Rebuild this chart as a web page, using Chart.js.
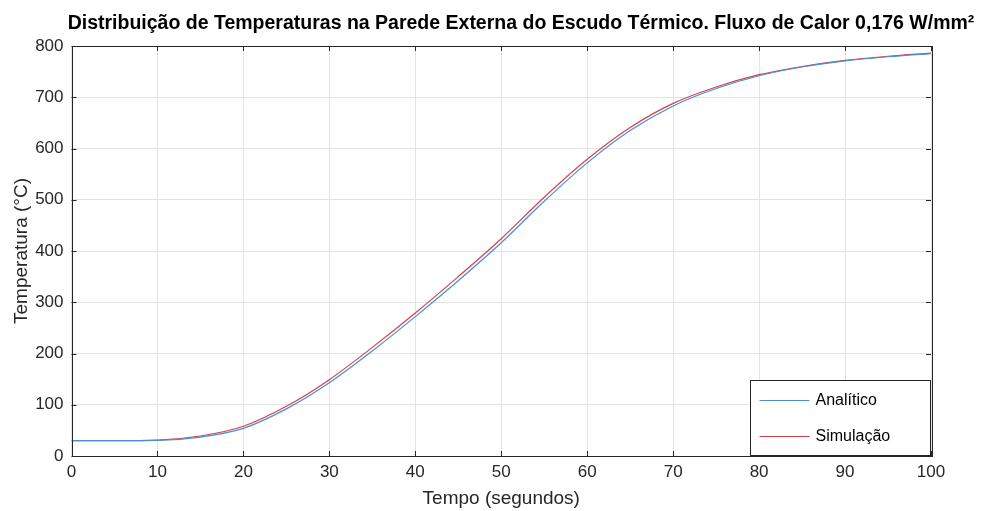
<!DOCTYPE html>
<html>
<head>
<meta charset="utf-8">
<script src="https://cdn.jsdelivr.net/npm/chart.js@4"></script>
<style>
  html, body { margin: 0; padding: 0; background: #fff; }
  #wrap { width: 1000px; height: 511px; }
</style>
</head>
<body>
<div id="wrap"><canvas id="chart" width="1000" height="511"></canvas></div>
<script>
// tempo (s) e temperaturas
const tempo = [0, 5, 10, 15, 20, 25, 30, 35, 40, 45, 50, 55, 60, 65, 70, 75, 80, 85, 90, 95, 100];
const analitico = [30, 30, 30.5, 37, 54, 92, 143, 205, 272, 342, 416, 497, 572, 635, 683, 717, 742, 759, 771, 779, 785];
const simulacao = [30, 30, 31, 39, 58, 97, 149, 212, 279, 350, 424, 505, 579, 641, 688, 720, 744, 760, 772, 780, 786];

const titulo = 'Distribuição de Temperaturas na Parede Externa do Escudo Térmico. Fluxo de Calor 0,176 W/mm²';
const nomes = ['Analítico', 'Simulação'];
const cores = ['#4a90cc', '#d6404e'];

const fonte = '"Liberation Sans", Arial, sans-serif';

const toPts = ys => tempo.map((t, i) => ({ x: t, y: ys[i] }));

const eixosPlugin = {
  id: 'eixos',
  afterDraw(chart) {
    const { ctx, chartArea: a } = chart;
    const xs = chart.scales.x, ys = chart.scales.y;
    ctx.save();
    // ticks para dentro
    ctx.strokeStyle = '#262626';
    ctx.lineWidth = 1;
    ctx.beginPath();
    for (let v = 0; v <= 100; v += 10) {
      const px = Math.round(xs.getPixelForValue(v)) + 0.5;
      ctx.moveTo(px, a.bottom); ctx.lineTo(px, a.bottom - 5);
      ctx.moveTo(px, a.top); ctx.lineTo(px, a.top + 5);
    }
    for (let v = 0; v <= 800; v += 100) {
      const py = Math.round(ys.getPixelForValue(v)) + 0.5;
      ctx.moveTo(a.left, py); ctx.lineTo(a.left + 5, py);
      ctx.moveTo(a.right, py); ctx.lineTo(a.right - 5, py);
    }
    ctx.stroke();
    ctx.strokeRect(Math.round(a.left) + 0.5, Math.round(a.top) + 0.5,
      Math.round(a.right - a.left), Math.round(a.bottom - a.top));

    // legenda
    const lx = 750.5, ly = 380.5, lw = 180, lh = 75;
    ctx.fillStyle = '#fff';
    ctx.fillRect(lx, ly, lw, lh);
    ctx.strokeStyle = '#262626';
    ctx.strokeRect(lx, ly, lw, lh);
    ctx.font = '16px ' + fonte;
    ctx.textBaseline = 'middle';
    chart.data.datasets.forEach((ds, i) => {
      const yy = ly + 20 + i * 36;
      ctx.strokeStyle = ds.borderColor;
      ctx.beginPath();
      ctx.moveTo(lx + 9, yy); ctx.lineTo(lx + 59, yy);
      ctx.stroke();
      ctx.fillStyle = '#000';
      ctx.textAlign = 'left';
      ctx.fillText(ds.label, lx + 65, yy);
    });

    // titulo
    ctx.font = 'bold 19.5px ' + fonte;
    ctx.fillStyle = '#000';
    ctx.textAlign = 'center';
    ctx.textBaseline = 'middle';
    ctx.fillText(titulo, 521, 24);
    ctx.restore();
  }
};

new Chart(document.getElementById('chart'), {
  type: 'line',
  data: {
    datasets: [
      { label: nomes[0], data: toPts(analitico), borderColor: cores[0], borderWidth: 1.2, pointRadius: 0, cubicInterpolationMode: 'monotone', fill: false },
      { label: nomes[1], data: toPts(simulacao), borderColor: cores[1], borderWidth: 1.2, pointRadius: 0, cubicInterpolationMode: 'monotone', fill: false }
    ]
  },
  options: {
    responsive: false,
    animation: false,
    layout: { padding: { left: 0, top: 46, right: 69, bottom: 0 } },
    plugins: { legend: { display: false }, title: { display: false }, tooltip: { enabled: false } },
    scales: {
      x: {
        type: 'linear', min: 0, max: 100,
        ticks: { stepSize: 10, color: '#262626', font: { family: fonte, size: 17 }, padding: 6, maxRotation: 0 },
        grid: { color: '#e3e3e3', tickLength: 0, drawTicks: false },
        border: { display: false },
        title: { display: true, text: 'Tempo (segundos)', color: '#262626', font: { family: fonte, size: 19 }, padding: { top: 0, bottom: 1 } },
        afterFit(s) { s.height = 55; }
      },
      y: {
        min: 0, max: 800,
        ticks: { stepSize: 100, color: '#262626', font: { family: fonte, size: 17 }, padding: 8 },
        grid: { color: '#e3e3e3', tickLength: 0, drawTicks: false },
        border: { display: false },
        title: { display: true, text: 'Temperatura (°C)', color: '#262626', font: { family: fonte, size: 19 }, padding: { top: 10, bottom: 0 } },
        afterFit(s) { s.width = 71.5; }
      }
    }
  },
  plugins: [eixosPlugin]
});
</script>
</body>
</html>
